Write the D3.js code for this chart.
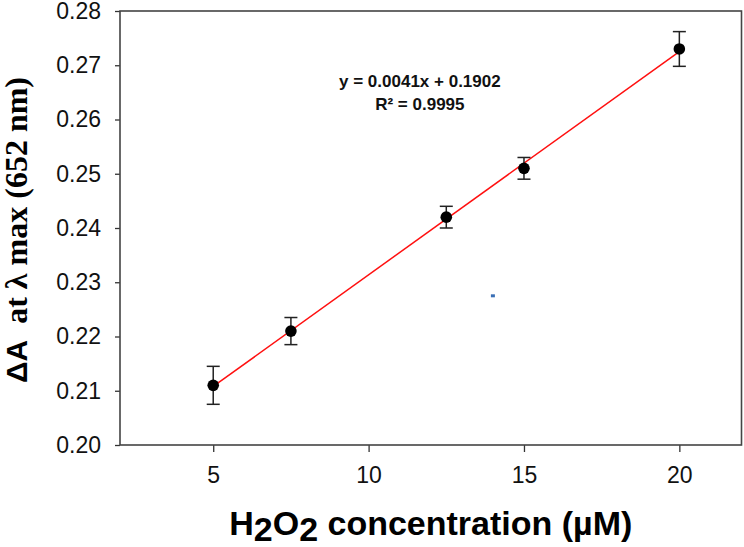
<!DOCTYPE html>
<html>
<head>
<meta charset="utf-8">
<script src="https://cdn.jsdelivr.net/npm/d3@7"></script>
<style>
  body { margin: 0; background: #fff; }
  svg { display: block; }
</style>
</head>
<body>
<div id="chart"></div>
<script>
(function(){

  var w = 744;
  var h = 547;
  var margin = {top: 11, right: 2.5, bottom: 102, left: 120};

  // concentration (uM), delta A and error bars
  var conc = [5, 7.5, 12.5, 15, 20];
  var deltaA = [0.211, 0.221, 0.242, 0.251, 0.273];
  var errA = [0.0035, 0.0025, 0.002, 0.002, 0.0032];

  var xTicks = [5, 10, 15, 20];
  var yTicks = [0.20, 0.21, 0.22, 0.23, 0.24, 0.25, 0.26, 0.27, 0.28];
  var xDomain = [2, 22];
  var yDomain = [0.20, 0.28];

  var eqLines = ["y = 0.0041x + 0.1902", "R\u00b2 = 0.9995"];
  // tiny stray blue speck in the original picture
  var strayMarks = [{x: 14, y: 0.2275}];

  // least squares fit for the red line
  function fit(xs, ys) {
    var mx = d3.mean(xs), my = d3.mean(ys);
    var sxy = 0, sxx = 0;
    xs.forEach(function(x, i){
      sxy += (x - mx) * (ys[i] - my);
      sxx += (x - mx) * (x - mx);
    });
    var m = sxy / sxx;
    return {m: m, b: my - m * mx};
  }

  var pw = w - margin.left - margin.right;
  var ph = h - margin.top - margin.bottom;

  var x = d3.scaleLinear().domain(xDomain).range([0, pw]);
  var y = d3.scaleLinear().domain(yDomain).range([ph, 0]);

  var svg = d3.select("#chart")
    .append("svg")
    .attr("width", w)
    .attr("height", h);

  var g = svg.append("g")
    .attr("transform", "translate(" + margin.left + "," + margin.top + ")");

  var yAxis = g.append("g")
    .call(d3.axisLeft(y).tickValues(yTicks).tickSize(5).tickPadding(14).tickFormat(d3.format(".2f")));

  var xAxis = g.append("g")
    .attr("transform", "translate(0," + ph + ")")
    .call(d3.axisBottom(x).tickValues(xTicks).tickSize(7).tickPadding(15).tickFormat(d3.format("d")));

  [xAxis, yAxis].forEach(function(ax){
    ax.select(".domain").remove();
    ax.selectAll("line").attr("stroke", "#333").attr("stroke-width", 1.3);
    ax.selectAll("text")
      .style("font-family", "Arial, 'Liberation Sans', sans-serif")
      .style("font-size", "23px")
      .attr("fill", "#111");
  });

  // frame
  g.append("rect")
    .attr("x", 0).attr("y", 0)
    .attr("width", pw).attr("height", ph)
    .attr("fill", "none")
    .attr("stroke", "#444")
    .attr("stroke-width", 1.6);

  // regression line
  var f = fit(conc, deltaA);
  var x0 = d3.min(conc), x1 = d3.max(conc);
  g.append("line")
    .attr("x1", x(x0)).attr("y1", y(f.m * x0 + f.b))
    .attr("x2", x(x1)).attr("y2", y(f.m * x1 + f.b))
    .attr("stroke", "#ff1010")
    .attr("stroke-width", 1.5);

  // error bars
  var eb = g.selectAll("g.err").data(conc).enter().append("g")
    .attr("class", "err")
    .attr("stroke", "#222")
    .attr("stroke-width", 1.5);
  eb.append("line")
    .attr("x1", function(d){ return x(d); })
    .attr("x2", function(d){ return x(d); })
    .attr("y1", function(d, i){ return y(deltaA[i] + errA[i]); })
    .attr("y2", function(d, i){ return y(deltaA[i] - errA[i]); });
  eb.append("line")
    .attr("x1", function(d){ return x(d) - 6.5; })
    .attr("x2", function(d){ return x(d) + 6.5; })
    .attr("y1", function(d, i){ return y(deltaA[i] + errA[i]); })
    .attr("y2", function(d, i){ return y(deltaA[i] + errA[i]); });
  eb.append("line")
    .attr("x1", function(d){ return x(d) - 6.5; })
    .attr("x2", function(d){ return x(d) + 6.5; })
    .attr("y1", function(d, i){ return y(deltaA[i] - errA[i]); })
    .attr("y2", function(d, i){ return y(deltaA[i] - errA[i]); });

  // points
  g.selectAll("circle.pt").data(conc).enter().append("circle")
    .attr("class", "pt")
    .attr("cx", function(d){ return x(d); })
    .attr("cy", function(d, i){ return y(deltaA[i]); })
    .attr("r", 5.8)
    .attr("fill", "#000");

  g.selectAll("rect.stray").data(strayMarks).enter().append("rect")
    .attr("class", "stray")
    .attr("x", function(d){ return x(d.x) - 2; })
    .attr("y", function(d){ return y(d.y) - 1.5; })
    .attr("width", 4).attr("height", 3)
    .attr("fill", "#3a6fb5");

  // equation
  g.selectAll("text.eq").data(eqLines).enter().append("text")
    .attr("class", "eq")
    .attr("x", x(11.65))
    .attr("y", function(d, i){ return 76 + i * 23; })
    .attr("text-anchor", "middle")
    .style("font-family", "Arial, 'Liberation Sans', sans-serif")
    .style("font-weight", "bold")
    .style("font-size", "17px")
    .attr("fill", "#111")
    .text(function(d){ return d; });

  // x title
  var xt = svg.append("text")
    .attr("x", margin.left + pw / 2)
    .attr("y", 535)
    .attr("text-anchor", "middle")
    .style("font-family", "Arial, 'Liberation Sans', sans-serif")
    .style("font-weight", "bold")
    .style("font-size", "34px")
    .attr("fill", "#000");
  xt.append("tspan").text("H");
  xt.append("tspan").attr("dy", 6).text("2");
  xt.append("tspan").attr("dy", -6).text("O");
  xt.append("tspan").attr("dy", 6).text("2");
  xt.append("tspan").attr("dy", -6).text(" concentration (\u00b5M)");

  // y title
  var yt = svg.append("text")
    .attr("transform", "translate(27," + 230 + ") rotate(-90)")
    .attr("text-anchor", "middle")
    .attr("fill", "#000")
    .style("font-weight", "bold");
  yt.append("tspan")
    .style("font-family", "Arial, 'Liberation Sans', sans-serif")
    .style("font-size", "30px")
    .text("\u0394A");
  yt.append("tspan")
    .style("font-family", "'Times New Roman', 'Liberation Serif', serif")
    .style("font-size", "32px")
    .attr("xml:space", "preserve")
    .text("  at \u03bb max (652 nm)");

})();
</script>
</body>
</html>
